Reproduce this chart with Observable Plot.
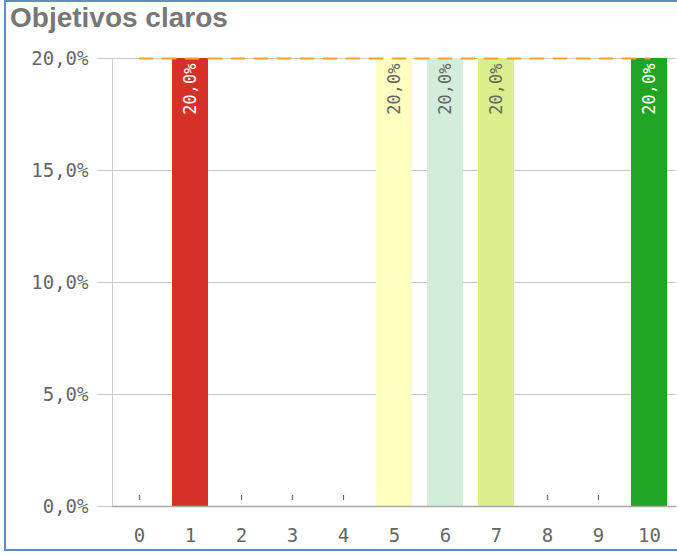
<!DOCTYPE html>
<html>
<head>
<meta charset="utf-8">
<script src="https://cdn.jsdelivr.net/npm/d3@7"></script>
<script src="https://cdn.jsdelivr.net/npm/@observablehq/plot@0.6"></script>
<style>
  html, body { margin: 0; padding: 0; background: #fff; width: 677px; height: 555px; overflow: hidden; }
  #frame { position: absolute; left: 4px; top: 0px; width: 680px; height: 551px; border: 2px solid #5b8ccf; box-sizing: border-box; }
  #title { position: absolute; left: 10px; top: 4px; font: bold 28px/28px "Liberation Sans", Arial, sans-serif; color: #777; white-space: nowrap; }
  #chart { position: absolute; left: 0; top: 40px; }
  #chart svg { overflow: visible; }
  #chart g[aria-label^="y-axis"] line, #chart g[aria-label^="y-axis"] path, #chart g[aria-label="frame"] line, #chart g[aria-label="frame"] path, #chart line[aria-label="frame"], #chart rect[aria-label="frame"] { stroke: #cfcfcf !important; stroke-opacity: 1 !important; }
  #chart g[aria-label^="y-axis"] text, #chart g[aria-label^="x-axis"] text { fill: #666 !important; font-size: 19px !important; font-family: "DejaVu Sans Mono", monospace !important; }
</style>
</head>
<body>
<div id="frame"></div>
<div id="title">Objetivos claros</div>
<div id="chart"></div>
<script>
const categories = ["0", "1", "2", "3", "4", "5", "6", "7", "8", "9", "10"];
const values = [0, 0.2, 0, 0, 0, 0.2, 0.2, 0.2, 0, 0, 0.2];
const barColors = ["#cccccc", "#d73027", "#cccccc", "#cccccc", "#cccccc", "#ffffbf", "#d3eddb", "#d9ef8b", "#cccccc", "#cccccc", "#1fa424"];
const labelColors = ["#666", "#ffffff", "#666", "#666", "#666", "#666666", "#666666", "#666666", "#666", "#666", "#ffffff"];
const yTicks = [0, 0.05, 0.1, 0.15, 0.2];
const targetValue = 0.2;

const fmt = d => (d * 100).toFixed(1).replace(".", ",") + "%";
const rows = categories.map((c, i) => ({cat: c, value: values[i], color: barColors[i], labelColor: labelColors[i]}));
const nonZero = rows.filter(d => d.value > 0);
const zeros = rows.filter(d => d.value === 0);
const mono = "DejaVu Sans Mono, monospace";

const chart = Plot.plot({
  width: 677,
  height: 515,
  marginLeft: 112,
  marginRight: 1,
  marginTop: 18,
  marginBottom: 49,
  style: {fontFamily: mono, fontSize: "19px", background: "transparent", overflow: "visible", color: "#666"},
  x: {type: "band", domain: categories, padding: 0.3, range: [105.85, 682.15], tickSize: 0, tickPadding: 22, label: null},
  y: {domain: [0, 0.2], ticks: yTicks, tickFormat: fmt, tickSize: 0, tickPadding: 24, label: null, line: true},
  marks: [
    Plot.ruleY(yTicks, {stroke: "#c8c8c8", strokeWidth: 1.2, insetLeft: -15}),
    Plot.barY(nonZero, {x: "cat", y: "value", fill: "color"}),
    Plot.ruleX(zeros, {x: "cat", y1: 0, y2: 0, insetTop: -11, insetBottom: 6, stroke: "#666", strokeWidth: 1.2}),
    Plot.ruleY([0], {stroke: "#a8a8a8", strokeWidth: 1.5}),
    Plot.lineY(categories, {x: d => d, y: () => targetValue, stroke: "#f7a12b", strokeWidth: 2, strokeDasharray: "13,10"}),
    Plot.text(nonZero, {x: "cat", y: "value", text: d => fmt(d.value), rotate: -90, textAnchor: "end", lineAnchor: "middle", dy: 5, fill: "labelColor", fontSize: 17, fontFamily: mono})
  ]
});
document.getElementById("chart").appendChild(chart);
</script>
</body>
</html>
